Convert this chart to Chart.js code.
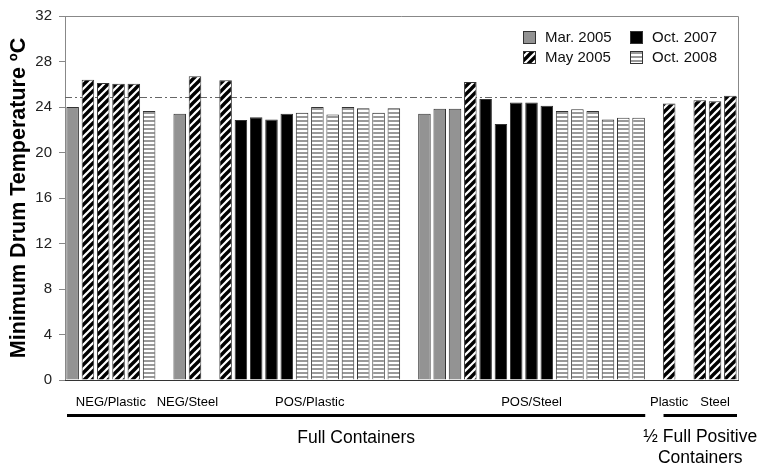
<!DOCTYPE html>
<html>
<head>
<meta charset="utf-8">
<script src="https://cdn.jsdelivr.net/npm/chart.js@4.4.1/dist/chart.umd.min.js"></script>
<style>
  html, body { margin: 0; padding: 0; background: #fff; }
  #wrap { width: 762px; height: 471px; }
</style>
</head>
<body>
<div id="wrap"><canvas id="chart"></canvas></div>
<script>
// 44 bar slots (empty slots separate the groups)
const SLOTS = Array.from({ length: 44 }, (_, i) => i);
const _ = null;

// Minimum drum temperature (deg C) per slot and survey
const mar2005 = [24.0,_,_,_,_,_,_, 23.4,_,_, _,_,_,_,_,_,_,_,_,_,_,_,_, 23.4,23.85,23.85,_,_,_,_,_,_,_,_,_,_,_,_,_, _,_,_,_,_];
const may2005 = [_,26.4,26.1,26.05,26.05,_,_, _,26.7,_, 26.35,_,_,_,_,_,_,_,_,_,_,_,_, _,_,_,26.2,_,_,_,_,_,_,_,_,_,_,_,_, 24.3,_,24.6,24.5,25.0];
const oct2007 = [_,_,_,_,_,_,_, _,_,_, _,22.85,23.1,22.9,23.4,_,_,_,_,_,_,_,_, _,_,_,_,24.7,22.5,24.4,24.4,24.1,_,_,_,_,_,_,_, _,_,_,_,_];
const oct2008 = [_,_,_,_,_,23.65,_, _,_,_, _,_,_,_,_,23.5,24.0,23.35,24.0,23.9,23.5,23.9,_, _,_,_,_,_,_,_,_,_,23.65,23.8,23.65,22.9,23.05,23.05,_, _,_,_,_,_];

const seriesNames = ['Mar. 2005', 'May 2005', 'Oct. 2007', 'Oct. 2008'];

// group labels (first and last slot of each group)
const groupNames = ['NEG/Plastic', 'NEG/Steel', 'POS/Plastic', 'POS/Steel', 'Plastic', 'Steel'];
const groupFirst = [0, 7, 10, 23, 39, 41];
const groupLast  = [5, 8, 21, 37, 39, 43];

const sectionNames = [['Full Containers'], ['\u00BD Full Positive', 'Containers']];
const sectionFirst = [0, 39];
const sectionLast  = [37, 43];

const REF_TEMP = 24.85;
const Y_TICKS = [0, 32, 4]; // min, max, step

const FONT = "'Liberation Sans', Arial, sans-serif";

function diagPattern() {
    const c = document.createElement('canvas');
    c.width = 8; c.height = 8;
    const g = c.getContext('2d');
    g.fillStyle = '#fff';
    g.fillRect(0, 0, 8, 8);
    g.strokeStyle = '#000';
    g.lineWidth = 3.4;
    [[-4, 4, 4, -4], [0, 8, 8, 0], [4, 12, 12, 4]].forEach(([a, b, d, e]) => {
        g.beginPath(); g.moveTo(a, b); g.lineTo(d, e); g.stroke();
    });
    return g.createPattern(c, 'repeat');
}

function hStripePattern() {
    const c = document.createElement('canvas');
    c.width = 4; c.height = 4;
    const g = c.getContext('2d');
    g.fillStyle = '#fff';
    g.fillRect(0, 0, 4, 4);
    g.fillStyle = '#999';
    g.fillRect(0, 0, 4, 2);
    return g.createPattern(c, 'repeat');
}

const fills = ['#939393', diagPattern(), '#000000', hStripePattern()];

// legend inside plot, 2 columns: Mar 2005 / Oct 2007, May 2005 / Oct 2008
const legendPlugin = {
    id: 'boxLegend',
    afterDraw(chart) {
        const { ctx, chartArea } = chart;
        const order = [0, 2, 1, 3];
        ctx.save();
        ctx.font = '15px ' + FONT;
        ctx.textBaseline = 'middle';
        order.forEach((di, k) => {
            const col = k % 2, row = Math.floor(k / 2);
            const x = chartArea.right - 215 + col * 107;
            const y = chartArea.top + 15 + row * 20;
            const ds = chart.data.datasets[di];
            ctx.fillStyle = ds.backgroundColor;
            ctx.fillRect(x, y, 13, 13);
            ctx.strokeStyle = '#333';
            ctx.lineWidth = 1;
            ctx.strokeRect(x + 0.5, y + 0.5, 12, 12);
            ctx.fillStyle = '#111';
            ctx.fillText(ds.label, x + 22, y + 7);
        });
        ctx.restore();
    }
};

const framePlugin = {
    id: 'frameAndGroups',
    beforeDatasetsDraw(chart) {
        const { ctx, chartArea, scales } = chart;
        const y = scales.y.getPixelForValue(REF_TEMP);
        ctx.save();
        ctx.strokeStyle = '#666';
        ctx.lineWidth = 1;
        ctx.setLineDash([7, 3, 2, 3]);
        ctx.beginPath();
        ctx.moveTo(chartArea.left, Math.round(y) + 0.5);
        ctx.lineTo(chartArea.right, Math.round(y) + 0.5);
        ctx.stroke();
        ctx.restore();
    },
    afterDatasetsDraw(chart) {
        const { ctx, chartArea, scales } = chart;
        const x = scales.x;
        ctx.save();
        // frame
        ctx.strokeStyle = '#888';
        ctx.lineWidth = 1;
        ctx.beginPath();
        ctx.moveTo(chartArea.left, chartArea.top + 0.5);
        ctx.lineTo(chartArea.right + 0.5, chartArea.top + 0.5);
        ctx.lineTo(chartArea.right + 0.5, chartArea.bottom);
        ctx.stroke();
        ctx.strokeStyle = '#333';
        ctx.beginPath();
        ctx.moveTo(chartArea.left, chartArea.bottom + 0.5);
        ctx.lineTo(chartArea.right + 1, chartArea.bottom + 0.5);
        ctx.stroke();

        // group labels
        ctx.fillStyle = '#000';
        ctx.textAlign = 'center';
        ctx.textBaseline = 'middle';
        ctx.font = '13px ' + FONT;
        groupNames.forEach((name, i) => {
            const cx = x.getPixelForValue((groupFirst[i] + groupLast[i]) / 2);
            ctx.fillText(name, cx, chartArea.bottom + 22);
        });

        // section underline + label
        ctx.font = '17.5px ' + FONT;
        sectionNames.forEach((lines, i) => {
            const x0 = x.getPixelForValue(sectionFirst[i] - 0.5) + 2;
            const x1 = x.getPixelForValue(sectionLast[i] + 0.5) - 1;
            ctx.fillRect(x0, chartArea.bottom + 34, x1 - x0, 3);
            const cx = (x0 + x1) / 2;
            lines.forEach((t, j) => {
                ctx.fillText(t, cx, chartArea.bottom + 57 + (lines.length === 1 ? 1 : 0) + j * 21);
            });
        });
        ctx.restore();
    }
};

new Chart(document.getElementById('chart'), {
    type: 'bar',
    data: {
        labels: SLOTS,
        datasets: [mar2005, may2005, oct2007, oct2008].map((d, i) => ({
            label: seriesNames[i],
            data: d,
            backgroundColor: fills[i],
            borderColor: '#333',
            borderWidth: 1,
            barPercentage: 0.82,
            categoryPercentage: 1
        }))
    },
    options: {
        responsive: true,
        maintainAspectRatio: false,
        animation: false,
        layout: { padding: { left: 0, right: 24, top: 14, bottom: 91 } },
        plugins: { legend: { display: false }, tooltip: { enabled: false } },
        scales: {
            x: {
                stacked: true,
                display: false
            },
            y: {
                stacked: true,
                min: Y_TICKS[0],
                max: Y_TICKS[1],
                afterFit(scale) { scale.width = 65; },
                ticks: {
                    stepSize: Y_TICKS[2],
                    padding: 7,
                    color: '#222',
                    font: { family: FONT, size: 15 }
                },
                grid: { drawOnChartArea: false, tickLength: 6, color: '#888' },
                border: { color: '#888' },
                title: {
                    display: true,
                    text: 'Minimum Drum Temperature \u00BAC',
                    color: '#000',
                    font: { family: FONT, size: 21.5, weight: 'bold' },
                    padding: { top: 6, bottom: 0 }
                }
            }
        }
    },
    plugins: [framePlugin, legendPlugin]
});
</script>
</body>
</html>
